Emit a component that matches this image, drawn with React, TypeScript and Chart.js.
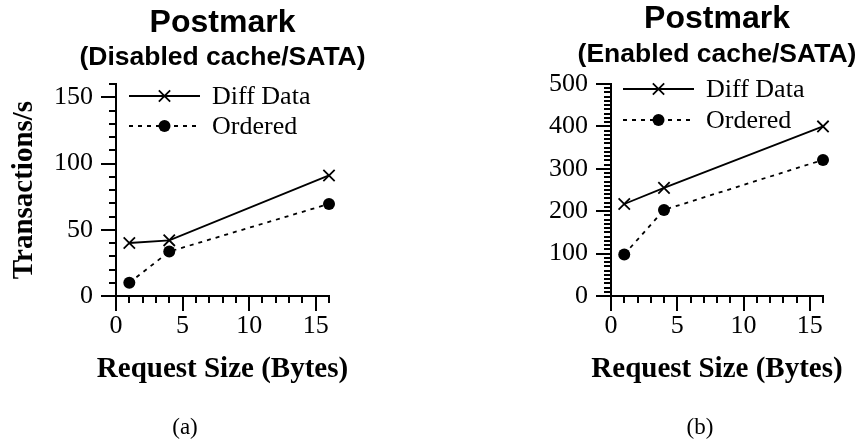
import React, { useEffect, useRef } from "react";
import { Chart, registerables } from "chart.js";

Chart.register(...registerables);

// ---- data ----
const requestSizes = [1, 4, 16];
const diffDataDisabled = [40, 42, 91];
const orderedDisabled = [10, 33.5, 69.5];
const diffDataEnabled = [217, 255, 400];
const orderedEnabled = [98, 203, 321];

const seriesNames = ["Diff Data", "Ordered"];
const xMajorTicks = [0, 5, 10, 15];
const yMajorTicksA = [0, 50, 100, 150];
const yMajorTicksB = [0, 100, 200, 300, 400, 500];

const panelTitle = "Postmark";
const subtitleA = "(Disabled cache/SATA)";
const subtitleB = "(Enabled cache/SATA)";
const xAxisTitle = "Request Size (Bytes)";
const yAxisTitle = "Transactions/s";
const panelLabels = ["(a)", "(b)"];

type Panel = {
  diff: number[];
  ordered: number[];
  yMax: number;
  yMajor: number[];
  yMinorStep: number;
  subtitle: string;
  label: string;
  labelX: number;
  yTitle: string | null;
  area: { left: number; right: number; top: number; bottom: number };
  titleY: number;
  subY: number;
  legendRows: [number, number];
  legendX: number;
};

const W = 430;
const H = 445;

const panels: Panel[] = [
  {
    diff: diffDataDisabled,
    ordered: orderedDisabled,
    yMax: 160,
    yMajor: yMajorTicksA,
    yMinorStep: 10,
    subtitle: subtitleA,
    label: panelLabels[0],
    labelX: 185,
    yTitle: yAxisTitle,
    area: { left: 116, right: 329, top: 84, bottom: 296 },
    titleY: 32,
    subY: 65,
    legendRows: [96, 126],
    legendX: 129,
  },
  {
    diff: diffDataEnabled,
    ordered: orderedEnabled,
    yMax: 500,
    yMajor: yMajorTicksB,
    yMinorStep: 10,
    subtitle: subtitleB,
    label: panelLabels[1],
    labelX: 270,
    yTitle: null,
    area: { left: 181, right: 393, top: 84, bottom: 296 },
    titleY: 28,
    subY: 62,
    legendRows: [89, 120],
    legendX: 193,
  },
];

const SERIF = '"Liberation Serif", "Times New Roman", serif';
const SANS = '"Liberation Sans", Arial, sans-serif';
const AXIS_W = 2;

function makeDecor(p: Panel) {
  return {
    id: "decor",
    afterDraw(chart: any) {
      const ctx: CanvasRenderingContext2D = chart.ctx;
      const xs = chart.scales.x;
      const ys = chart.scales.y;
      const ca = chart.chartArea;
      ctx.save();
      ctx.strokeStyle = "#000";
      ctx.fillStyle = "#000";
      ctx.lineWidth = AXIS_W;
      ctx.setLineDash([]);
      // minor ticks
      for (let v = 0; v <= 16; v += 1) {
        if (xMajorTicks.includes(v)) continue;
        const px = Math.round(xs.getPixelForValue(v));
        ctx.beginPath();
        ctx.moveTo(px, ca.bottom);
        ctx.lineTo(px, ca.bottom + 7);
        ctx.stroke();
      }
      for (let v = 0; v <= p.yMax; v += p.yMinorStep) {
        if (p.yMajor.includes(v)) continue;
        const py = Math.round(ys.getPixelForValue(v));
        ctx.beginPath();
        ctx.moveTo(ca.left - 7, py);
        ctx.lineTo(ca.left, py);
        ctx.stroke();
      }
      const cx = (ca.left + ca.right) / 2;
      // titles
      ctx.textAlign = "center";
      ctx.textBaseline = "alphabetic";
      ctx.font = `bold 32px ${SANS}`;
      ctx.fillText(panelTitle, cx, p.titleY);
      ctx.font = `bold 26.5px ${SANS}`;
      ctx.fillText(p.subtitle, cx, p.subY);
      // x axis title
      ctx.font = `bold 29px ${SERIF}`;
      ctx.fillText(xAxisTitle, cx, 377);
      // y axis title
      if (p.yTitle) {
        ctx.save();
        ctx.translate(32, (ca.top + ca.bottom) / 2);
        ctx.rotate(-Math.PI / 2);
        ctx.fillText(p.yTitle, 0, 0);
        ctx.restore();
      }
      // panel label
      ctx.font = `23px ${SERIF}`;
      ctx.fillText(p.label, p.labelX, 434);
      // legend
      chart.data.datasets.forEach((ds: any, i: number) => {
        const y = p.legendRows[i];
        const x0 = p.legendX;
        const x1 = x0 + 71;
        const mx = (x0 + x1) / 2;
        ctx.lineWidth = ds.borderWidth;
        ctx.setLineDash(ds.borderDash || []);
        ctx.beginPath();
        ctx.moveTo(x0, y);
        ctx.lineTo(x1, y);
        ctx.stroke();
        ctx.setLineDash([]);
        const r = ds.pointRadius;
        if (ds.pointStyle === "crossRot") {
          const d = r * Math.SQRT1_2;
          ctx.lineWidth = ds.pointBorderWidth;
          ctx.beginPath();
          ctx.moveTo(mx - d, y - d);
          ctx.lineTo(mx + d, y + d);
          ctx.moveTo(mx + d, y - d);
          ctx.lineTo(mx - d, y + d);
          ctx.stroke();
        } else {
          ctx.beginPath();
          ctx.arc(mx, y, r, 0, Math.PI * 2);
          ctx.fill();
        }
        ctx.font = `26px ${SERIF}`;
        ctx.textAlign = "left";
        ctx.textBaseline = "middle";
        ctx.fillText(ds.label, x1 + 12, y + 1);
      });
      ctx.restore();
    },
  };
}

function PanelChart({ p, left }: { p: Panel; left: number }) {
  const ref = useRef<HTMLCanvasElement | null>(null);
  useEffect(() => {
    if (!ref.current) return;
    const tickFont = { family: SERIF, size: 26 };
    const chart = new Chart(ref.current, {
      type: "line",
      data: {
        datasets: [
          {
            label: seriesNames[0],
            data: requestSizes.map((x, i) => ({ x, y: p.diff[i] })),
            borderColor: "#000",
            backgroundColor: "#000",
            borderWidth: 1.8,
            borderDash: [],
            pointStyle: "crossRot",
            pointRadius: 8,
            pointBorderWidth: 1.8,
            pointBorderColor: "#000",
            tension: 0,
            clip: false,
          } as any,
          {
            label: seriesNames[1],
            data: requestSizes.map((x, i) => ({ x, y: p.ordered[i] })),
            borderColor: "#000",
            backgroundColor: "#000",
            borderWidth: 1.8,
            borderDash: [4, 5],
            pointStyle: "circle",
            pointRadius: 6,
            pointBorderWidth: 0,
            pointBackgroundColor: "#000",
            tension: 0,
            clip: false,
          } as any,
        ],
      },
      options: {
        responsive: false,
        animation: false,
        devicePixelRatio: 1,
        layout: {
          padding: {
            left: 0,
            right: W - p.area.right,
            top: p.area.top,
            bottom: 0,
          },
        },
        plugins: {
          legend: { display: false },
          title: { display: false },
          tooltip: { enabled: false },
        },
        scales: {
          x: {
            type: "linear",
            min: 0,
            max: 16,
            afterBuildTicks: (s: any) => {
              s.ticks = xMajorTicks.map((v) => ({ value: v }));
            },
            afterFit: (s: any) => {
              s.height = H - p.area.bottom;
            },
            ticks: {
              font: tickFont,
              color: "#000",
              padding: 0,
              maxRotation: 0,
              minRotation: 0,
              autoSkip: false,
            },
            grid: {
              drawOnChartArea: false,
              drawTicks: true,
              tickLength: 15,
              color: "#000",
              lineWidth: AXIS_W,
            },
            border: { display: true, color: "#000", width: AXIS_W },
          },
          y: {
            type: "linear",
            min: 0,
            max: p.yMax,
            afterBuildTicks: (s: any) => {
              s.ticks = p.yMajor.map((v) => ({ value: v }));
            },
            afterFit: (s: any) => {
              s.width = p.area.left;
            },
            ticks: { font: tickFont, color: "#000", padding: 8, autoSkip: false },
            grid: {
              drawOnChartArea: false,
              drawTicks: true,
              tickLength: 15,
              color: "#000",
              lineWidth: AXIS_W,
            },
            border: { display: true, color: "#000", width: AXIS_W },
          },
        },
      } as any,
      plugins: [makeDecor(p)],
    });
    return () => chart.destroy();
  }, [p]);
  return (
    <canvas
      ref={ref}
      width={W}
      height={H}
      style={{ position: "absolute", left, top: 0, width: W, height: H }}
    />
  );
}

export default function App() {
  return (
    <div
      style={{
        position: "fixed",
        left: 0,
        top: 0,
        width: 860,
        height: 445,
        background: "#fff",
      }}
    >
      <PanelChart p={panels[0]} left={0} />
      <PanelChart p={panels[1]} left={430} />
    </div>
  );
}
